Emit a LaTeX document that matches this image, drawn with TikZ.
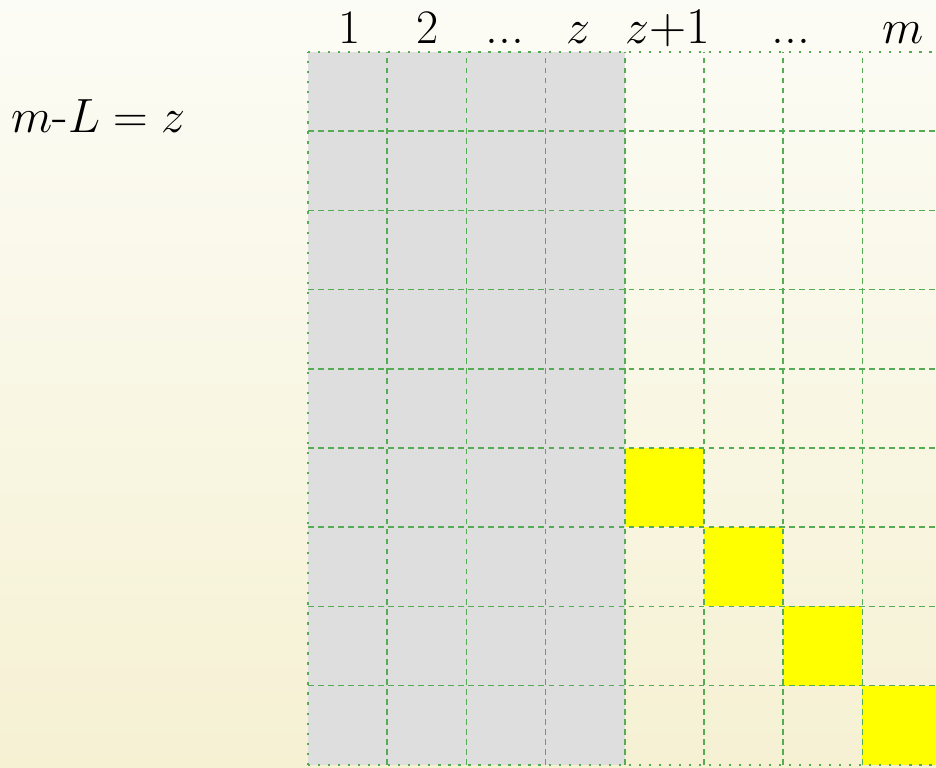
\documentclass[tikz,border=0pt]{standalone}
\usepackage{amsmath,amssymb}
\usepackage{tikz}
\usetikzlibrary{calc}

\definecolor{bgtop}{RGB}{252,252,246}
\definecolor{bgbottom}{RGB}{246,241,211}
\definecolor{cellgray}{RGB}{222,222,222}
\definecolor{cellyellow}{RGB}{255,255,0}
\definecolor{gridgreen}{RGB}{85,172,85}

\tikzset{
  innerline/.style={gridgreen, line width=0.55pt, dash pattern=on 2pt off 1.6pt},
  outerline/.style={gridgreen, line width=0.65pt, dash pattern=on 0.8pt off 2.8pt},
  collabel/.style={anchor=base, inner sep=0pt, font=\fontsize{18.5pt}{22pt}\selectfont}
}

\begin{document}
\begin{tikzpicture}
  \useasboundingbox (-3.889,-0.038) rectangle (7.929,9.657);
  \clip (-3.889,-0.038) rectangle (7.929,9.657);
  \shade[top color=bgtop, bottom color=bgbottom] (-3.889,-0.038) rectangle (7.929,9.657);
  % shaded columns
  \fill[cellgray] (0,0) rectangle (4,9);
  % diagonal cells
  \fill[cellyellow] (4,3) rectangle (5,4);
  \fill[cellyellow] (5,2) rectangle (6,3);
  \fill[cellyellow] (6,1) rectangle (7,2);
  \fill[cellyellow] (7,0) rectangle (8,1);
  % grid
  \foreach \x in {1,...,8}
    \draw[innerline] (\x,0) -- (\x,9);
  \foreach \y in {1,...,8}
    \draw[innerline] (0,\y) -- (8,\y);
  \draw[outerline] (0,0) -- (8,0);
  \draw[outerline] (0,9) -- (8,9);
  \draw[outerline] (0,0) -- (0,9);
  % labels
  \node[collabel] (c1) at (0.53,9.11) {$1$};
  \node[collabel] (c2) at (1.51,9.11) {$2$};
  \node[collabel] (c3) at (2.49,9.11) {...};
  \node[collabel] (cz) at (3.41,9.11) {$z$};
  \node[collabel] (cz1) at (4.54,9.11) {$z$+1};
  \node[collabel] (c6) at (6.10,9.11) {...};
  \node[collabel] (cm) at (7.51,9.11) {$m$};
  \node[collabel, anchor=base west] (diff) at (-3.75,7.98) {$m$-$L = z$};
\end{tikzpicture}
\end{document}
